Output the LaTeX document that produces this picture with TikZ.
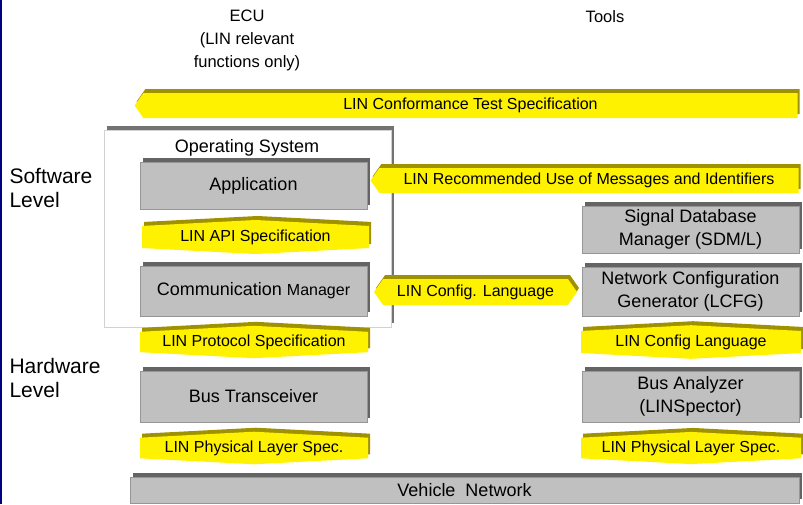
\documentclass[tikz,border=0pt]{standalone}
\usepackage{fontspec}
\setmainfont{Liberation Sans}
\usetikzlibrary{shapes.symbols, shadows}
\definecolor{boxgray}{RGB}{192,192,192}
\definecolor{edgegray}{RGB}{150,150,150}
\definecolor{shadegray}{RGB}{100,100,100}
\definecolor{bandolive}{RGB}{160,145,0}
\definecolor{framegray}{RGB}{115,115,115}
\definecolor{navyline}{RGB}{0,0,128}
\tikzstyle{blk} = [rectangle, draw=edgegray, fill=boxgray, text centered, align=center, font=\fontsize{18}{23}\selectfont, drop shadow={shadow xshift=3pt, shadow yshift=4pt, fill=shadegray, opacity=1}]
\tikzstyle{spec} = [signal, fill=yellow, draw=none, inner sep=0pt, font=\fontsize{16}{19}\selectfont, drop shadow={shadow xshift=2pt, shadow yshift=4pt, fill=bandolive, opacity=1}]
\tikzstyle{specv} = [spec, signal to=north and south, signal pointer angle=174, minimum height=30]
\tikzstyle{spech} = [spec, signal pointer angle=110, minimum height=25]
\tikzstyle{caption} = [align=center, font=\fontsize{16.5}{23}\selectfont]
\tikzstyle{level} = [anchor=west, align=left, font=\fontsize{21}{24}\selectfont]

\begin{document}
\begin{tikzpicture}[x=1pt, y=-1pt]
\useasboundingbox (0,0) rectangle (803,504);
\draw[navyline, line width=2pt] (1,0) -- (1,504);

\node (ecu) [caption] at (247,40) {ECU\\(LIN relevant\\functions only)};
\node (tools) [caption] at (605,17) {Tools};
\node (sw) [level] at (6,188) {Software\\Level};
\node (hw) [level] at (6,378) {Hardware\\Level};

\node (conf) [spech, signal to=west, minimum width=663] at (470.5,105.5) {LIN Conformance Test Specification};

% operating system frame
\node (os) [rectangle, draw=gray!35, fill=white, minimum width=287, minimum height=197, drop shadow={shadow xshift=3pt, shadow yshift=4pt, fill=framegray, opacity=1}] at (247.5,228.5) {};
\node (oslabel) [font=\fontsize{18}{21}\selectfont] at (247,148) {Operating System};

\node (app) [blk, minimum width=227, minimum height=47] at (253.5,185.5) {Application};
\node (api) [specv, minimum width=227] at (255.5,237) {LIN API Specification};
\node (comm) [blk, minimum width=227, minimum height=50] at (253.5,291) {Communication {\fontsize{16}{19}\selectfont Manager}};
\node (proto) [specv, minimum width=228] at (254,342) {LIN Protocol Specification};
\node (trx) [blk, minimum width=227, minimum height=51] at (253.5,396.5) {Bus Transceiver};
\node (phyl) [specv, minimum width=228] at (254,448) {LIN Physical Layer Spec.};

\node (rec) [spech, signal to=west, minimum width=428] at (589,180.5) {LIN Recommended Use of Messages and Identifiers};
\node (cfgmid) [spech, signal to=west and east, minimum width=203, minimum height=26] at (475.5,292) {LIN Config. Language};

\node (sdm) [blk, minimum width=217, minimum height=47] at (690.5,229.5) {Signal Database\\Manager (SDM/L)};
\node (lcfg) [blk, minimum width=217, minimum height=49] at (690.5,291.5) {Network Configuration\\Generator (LCFG)};
\node (cfgr) [specv, minimum width=220] at (691,342) {LIN Config Language};
\node (ana) [blk, minimum width=217, minimum height=51] at (690.5,396.5) {Bus Analyzer\\(LINSpector)};
\node (phyr) [specv, minimum width=220] at (691,448) {LIN Physical Layer Spec.};

\node (veh) [blk, minimum width=669, minimum height=26, inner sep=0pt] at (464.5,490) {Vehicle\ \ Network};
\end{tikzpicture}
\end{document}
